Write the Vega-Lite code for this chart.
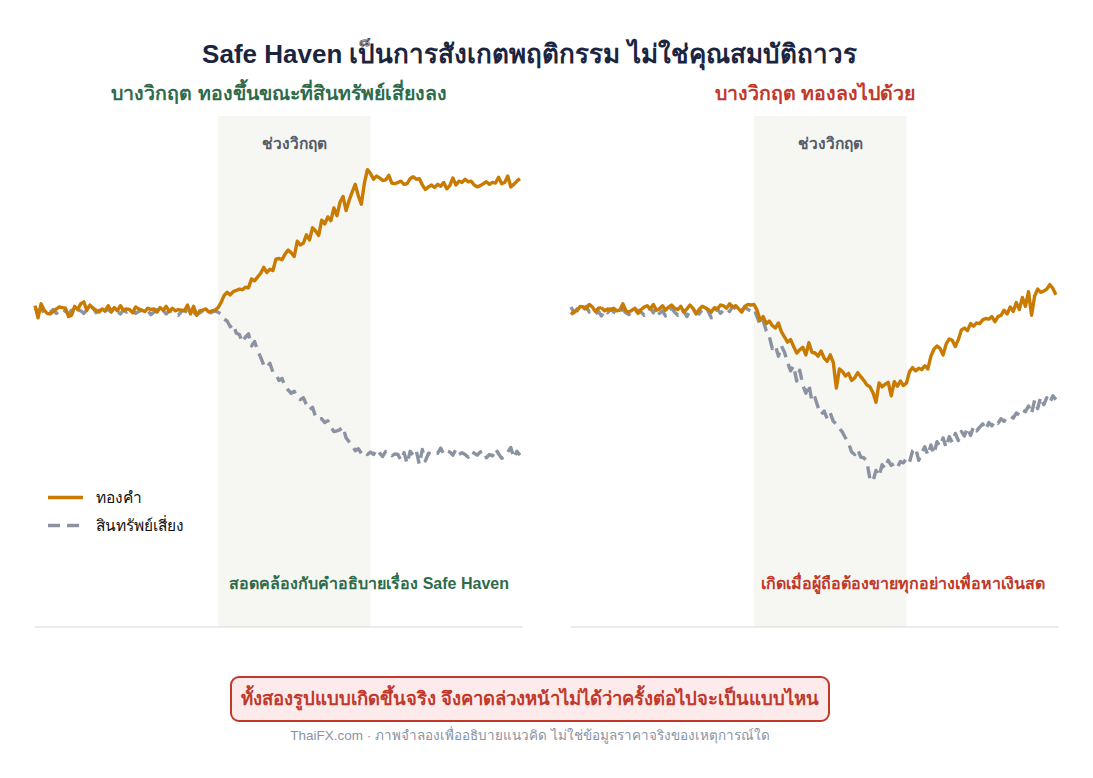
{
  "$schema": "https://vega.github.io/schema/vega-lite/v6.json",
  "padding": {"left": 33, "top": 41, "right": 0, "bottom": 0},
  "background": "white",
  "title": {
    "text": "Safe Haven เป็นการสังเกตพฤติกรรม ไม่ใช่คุณสมบัติถาวร",
    "fontSize": 26,
    "fontWeight": "bold",
    "color": "#1b2540",
    "anchor": "middle",
    "dx": -17,
    "offset": 16
  },
  "config": {
    "font": "Liberation Sans",
    "view": {"stroke": null}
  },
  "datasets": {
    "band": [{"start": 60, "end": 110, "label": "ช่วงวิกฤต"}],
    "left": [
      {"t":0,"gold":100.3,"risk":99.9},{"t":1,"gold":98.4,"risk":99.5},{"t":2,"gold":100.6,"risk":99.8},{"t":3,"gold":99.6,"risk":99.2},{"t":4,"gold":99.1,"risk":99.6},
      {"t":5,"gold":99.0,"risk":99.3},{"t":6,"gold":99.4,"risk":99.7},{"t":7,"gold":99.8,"risk":99.1},{"t":8,"gold":100.1,"risk":99.5},{"t":9,"gold":100.0,"risk":99.8},
      {"t":10,"gold":99.9,"risk":99.4},{"t":11,"gold":98.6,"risk":99.0},{"t":12,"gold":98.8,"risk":99.6},{"t":13,"gold":100.2,"risk":99.3},{"t":14,"gold":99.7,"risk":99.7},
      {"t":15,"gold":100.6,"risk":99.5},{"t":16,"gold":100.9,"risk":99.1},{"t":17,"gold":99.6,"risk":99.6},{"t":18,"gold":100.4,"risk":99.4},{"t":19,"gold":99.9,"risk":100.0},
      {"t":20,"gold":99.6,"risk":99.2},{"t":21,"gold":99.3,"risk":99.6},{"t":22,"gold":99.8,"risk":98.9},{"t":23,"gold":99.5,"risk":99.5},{"t":24,"gold":100.3,"risk":99.7},
      {"t":25,"gold":99.4,"risk":99.3},{"t":26,"gold":100.0,"risk":99.8},{"t":27,"gold":99.5,"risk":99.4},{"t":28,"gold":100.3,"risk":99.0},{"t":29,"gold":99.6,"risk":99.6},
      {"t":30,"gold":99.8,"risk":99.3},{"t":31,"gold":99.7,"risk":99.7},{"t":32,"gold":99.2,"risk":99.5},{"t":33,"gold":100.1,"risk":99.1},{"t":34,"gold":99.8,"risk":99.4},
      {"t":35,"gold":99.6,"risk":99.6},{"t":36,"gold":99.4,"risk":99.2},{"t":37,"gold":99.9,"risk":99.5},{"t":38,"gold":99.7,"risk":98.9},{"t":39,"gold":99.8,"risk":99.3},
      {"t":40,"gold":99.3,"risk":99.7},{"t":41,"gold":100.0,"risk":99.4},{"t":42,"gold":99.6,"risk":99.6},{"t":43,"gold":100.2,"risk":99.0},{"t":44,"gold":99.4,"risk":99.5},
      {"t":45,"gold":99.9,"risk":99.3},{"t":46,"gold":99.5,"risk":99.1},{"t":47,"gold":99.7,"risk":98.8},{"t":48,"gold":99.6,"risk":99.4},{"t":49,"gold":99.5,"risk":99.6},
      {"t":50,"gold":100.4,"risk":99.2},{"t":51,"gold":99.0,"risk":99.5},{"t":52,"gold":100.2,"risk":99.3},{"t":53,"gold":98.8,"risk":98.9},{"t":54,"gold":99.5,"risk":99.2},
      {"t":55,"gold":99.6,"risk":99.5},{"t":56,"gold":99.8,"risk":99.4},{"t":57,"gold":99.3,"risk":99.1},{"t":58,"gold":99.5,"risk":99.3},{"t":59,"gold":99.6,"risk":99.5},
      {"t":60,"gold":100.0,"risk":99.3},{"t":61,"gold":100.8,"risk":99.0},{"t":62,"gold":101.9,"risk":98.2},{"t":63,"gold":102.4,"risk":97.9},{"t":64,"gold":102.0,"risk":97.0},
      {"t":65,"gold":102.5,"risk":97.4},{"t":66,"gold":102.7,"risk":96.0},{"t":67,"gold":102.9,"risk":95.8},{"t":68,"gold":102.8,"risk":94.6},{"t":69,"gold":103.2,"risk":95.4},
      {"t":70,"gold":103.1,"risk":95.9},{"t":71,"gold":104.5,"risk":94.0},{"t":72,"gold":104.2,"risk":94.7},{"t":73,"gold":104.8,"risk":93.3},{"t":74,"gold":105.4,"risk":92.2},
      {"t":75,"gold":106.3,"risk":91.0},{"t":76,"gold":105.5,"risk":90.6},{"t":77,"gold":106.0,"risk":91.3},{"t":78,"gold":105.8,"risk":89.9},{"t":79,"gold":107.6,"risk":89.5},
      {"t":80,"gold":107.7,"risk":88.6},{"t":81,"gold":107.5,"risk":88.9},{"t":82,"gold":108.4,"risk":87.7},{"t":83,"gold":109.0,"risk":87.1},{"t":84,"gold":108.6,"risk":86.6},
      {"t":85,"gold":108.0,"risk":86.9},{"t":86,"gold":110.4,"risk":85.9},{"t":87,"gold":109.8,"risk":85.6},{"t":88,"gold":110.1,"risk":85.9},{"t":89,"gold":111.4,"risk":84.8},
      {"t":90,"gold":110.6,"risk":84.0},{"t":91,"gold":112.5,"risk":84.4},{"t":92,"gold":112.0,"risk":82.9},{"t":93,"gold":111.3,"risk":82.5},{"t":94,"gold":113.7,"risk":82.6},
      {"t":95,"gold":113.1,"risk":82.0},{"t":96,"gold":114.2,"risk":82.3},{"t":97,"gold":113.6,"risk":81.3},{"t":98,"gold":115.6,"risk":80.6},{"t":99,"gold":114.4,"risk":80.7},
      {"t":100,"gold":116.5,"risk":80.9},{"t":101,"gold":117.4,"risk":81.3},{"t":102,"gold":115.2,"risk":79.6},{"t":103,"gold":116.8,"risk":79.0},{"t":104,"gold":118.1,"risk":78.4},
      {"t":105,"gold":119.3,"risk":77.6},{"t":106,"gold":117.5,"risk":77.9},{"t":107,"gold":116.2,"risk":77.2},{"t":108,"gold":119.5,"risk":77.5},{"t":109,"gold":121.6,"risk":77.0},
      {"t":110,"gold":121.0,"risk":77.4},{"t":111,"gold":120.1,"risk":77.0},{"t":112,"gold":120.6,"risk":77.8},{"t":113,"gold":120.3,"risk":77.2},{"t":114,"gold":119.9,"risk":76.7},
      {"t":115,"gold":120.0,"risk":77.5},{"t":116,"gold":120.7,"risk":77.4},{"t":117,"gold":119.5,"risk":76.8},{"t":118,"gold":119.4,"risk":77.1},{"t":119,"gold":119.6,"risk":77.0},
      {"t":120,"gold":119.8,"risk":76.1},{"t":121,"gold":119.3,"risk":77.3},{"t":122,"gold":119.4,"risk":75.6},{"t":123,"gold":120.2,"risk":77.5},{"t":124,"gold":120.5,"risk":76.9},
      {"t":125,"gold":120.1,"risk":77.6},{"t":126,"gold":120.2,"risk":75.5},{"t":127,"gold":119.2,"risk":77.8},{"t":128,"gold":118.5,"risk":76.0},{"t":129,"gold":118.9,"risk":77.2},
      {"t":130,"gold":119.2,"risk":77.1},{"t":131,"gold":118.8,"risk":77.4},{"t":132,"gold":119.3,"risk":77.2},{"t":133,"gold":119.0,"risk":78.0},{"t":134,"gold":119.6,"risk":77.1},
      {"t":135,"gold":118.6,"risk":77.6},{"t":136,"gold":119.1,"risk":77.4},{"t":137,"gold":120.3,"risk":76.9},{"t":138,"gold":119.2,"risk":77.8},{"t":139,"gold":119.8,"risk":77.0},
      {"t":140,"gold":119.6,"risk":77.3},{"t":141,"gold":120.1,"risk":77.0},{"t":142,"gold":119.7,"risk":76.6},{"t":143,"gold":119.8,"risk":77.5},{"t":144,"gold":119.2,"risk":77.2},
      {"t":145,"gold":118.9,"risk":76.9},{"t":146,"gold":119.1,"risk":77.4},{"t":147,"gold":119.4,"risk":77.6},{"t":148,"gold":119.7,"risk":76.5},{"t":149,"gold":119.3,"risk":77.0},
      {"t":150,"gold":119.6,"risk":76.8},{"t":151,"gold":119.5,"risk":77.9},{"t":152,"gold":120.4,"risk":77.1},{"t":153,"gold":119.4,"risk":76.4},{"t":154,"gold":119.6,"risk":76.7},
      {"t":155,"gold":120.6,"risk":77.4},{"t":156,"gold":118.9,"risk":78.1},{"t":157,"gold":119.3,"risk":76.5},{"t":158,"gold":119.8,"risk":77.5},{"t":159,"gold":120.2,"risk":76.9}
    ],
    "right": [
      {"t":0,"gold":98.9,"risk":100.1},{"t":1,"gold":99.4,"risk":99.2},{"t":2,"gold":99.5,"risk":99.8},{"t":3,"gold":100.2,"risk":99.4},{"t":4,"gold":100.1,"risk":99.6},
      {"t":5,"gold":99.8,"risk":100.2},{"t":6,"gold":100.5,"risk":99.3},{"t":7,"gold":100.1,"risk":99.5},{"t":8,"gold":99.4,"risk":99.0},{"t":9,"gold":99.9,"risk":99.4},
      {"t":10,"gold":100.0,"risk":98.7},{"t":11,"gold":99.5,"risk":99.6},{"t":12,"gold":99.8,"risk":99.2},{"t":13,"gold":99.6,"risk":99.8},{"t":14,"gold":99.9,"risk":99.3},
      {"t":15,"gold":99.5,"risk":99.0},{"t":16,"gold":99.6,"risk":99.5},{"t":17,"gold":100.6,"risk":99.7},{"t":18,"gold":99.5,"risk":99.2},{"t":19,"gold":99.3,"risk":98.9},
      {"t":20,"gold":99.6,"risk":99.4},{"t":21,"gold":99.9,"risk":99.1},{"t":22,"gold":99.1,"risk":99.6},{"t":23,"gold":99.7,"risk":99.3},{"t":24,"gold":100.1,"risk":98.8},
      {"t":25,"gold":100.3,"risk":99.7},{"t":26,"gold":99.8,"risk":99.9},{"t":27,"gold":100.5,"risk":99.2},{"t":28,"gold":99.6,"risk":100.0},{"t":29,"gold":99.8,"risk":99.1},
      {"t":30,"gold":100.3,"risk":99.5},{"t":31,"gold":99.6,"risk":98.7},{"t":32,"gold":100.1,"risk":99.6},{"t":33,"gold":100.4,"risk":99.9},{"t":34,"gold":99.9,"risk":99.3},
      {"t":35,"gold":99.7,"risk":98.8},{"t":36,"gold":100.2,"risk":99.6},{"t":37,"gold":99.3,"risk":99.4},{"t":38,"gold":99.8,"risk":98.6},{"t":39,"gold":100.4,"risk":99.5},
      {"t":40,"gold":99.9,"risk":99.8},{"t":41,"gold":99.0,"risk":99.2},{"t":42,"gold":99.7,"risk":99.0},{"t":43,"gold":100.2,"risk":99.7},{"t":44,"gold":100.0,"risk":100.2},
      {"t":45,"gold":99.7,"risk":99.4},{"t":46,"gold":99.3,"risk":98.4},{"t":47,"gold":100.0,"risk":99.3},{"t":48,"gold":99.8,"risk":99.8},{"t":49,"gold":100.4,"risk":99.1},
      {"t":50,"gold":100.3,"risk":99.6},{"t":51,"gold":99.9,"risk":99.9},{"t":52,"gold":100.6,"risk":99.4},{"t":53,"gold":100.1,"risk":100.2},{"t":54,"gold":100.3,"risk":99.8},
      {"t":55,"gold":99.8,"risk":99.3},{"t":56,"gold":99.3,"risk":99.6},{"t":57,"gold":100.2,"risk":100.1},{"t":58,"gold":100.5,"risk":99.7},{"t":59,"gold":100.4,"risk":99.5},
      {"t":60,"gold":100.5,"risk":99.8},{"t":61,"gold":99.6,"risk":98.6},{"t":62,"gold":98.0,"risk":97.3},{"t":63,"gold":98.6,"risk":98.0},{"t":64,"gold":97.5,"risk":96.4},
      {"t":65,"gold":97.9,"risk":95.5},{"t":66,"gold":97.2,"risk":93.6},{"t":67,"gold":96.8,"risk":94.1},{"t":68,"gold":97.6,"risk":92.4},{"t":69,"gold":96.2,"risk":94.0},
      {"t":70,"gold":95.4,"risk":93.0},{"t":71,"gold":94.6,"risk":91.4},{"t":72,"gold":95.0,"risk":90.1},{"t":73,"gold":93.9,"risk":90.9},{"t":74,"gold":92.9,"risk":88.5},
      {"t":75,"gold":93.4,"risk":90.2},{"t":76,"gold":93.8,"risk":87.9},{"t":77,"gold":92.6,"risk":86.6},{"t":78,"gold":94.5,"risk":88.0},{"t":79,"gold":93.0,"risk":85.3},
      {"t":80,"gold":92.9,"risk":85.9},{"t":81,"gold":92.4,"risk":84.4},{"t":82,"gold":93.2,"risk":83.3},{"t":83,"gold":92.1,"risk":83.8},{"t":84,"gold":91.6,"risk":82.6},
      {"t":85,"gold":92.6,"risk":83.5},{"t":86,"gold":91.4,"risk":82.2},{"t":87,"gold":87.4,"risk":81.8},{"t":88,"gold":90.4,"risk":81.1},{"t":89,"gold":90.0,"risk":80.5},
      {"t":90,"gold":89.3,"risk":79.6},{"t":91,"gold":89.7,"risk":78.8},{"t":92,"gold":88.6,"risk":77.4},{"t":93,"gold":89.0,"risk":77.0},{"t":94,"gold":89.8,"risk":77.8},
      {"t":95,"gold":89.2,"risk":76.6},{"t":96,"gold":88.6,"risk":76.5},{"t":97,"gold":87.9,"risk":75.9},{"t":98,"gold":87.6,"risk":73.2},{"t":99,"gold":86.7,"risk":72.8},
      {"t":100,"gold":85.2,"risk":74.5},{"t":101,"gold":88.2,"risk":73.6},{"t":102,"gold":87.6,"risk":75.4},{"t":103,"gold":88.0,"risk":74.8},{"t":104,"gold":88.3,"risk":76.1},
      {"t":105,"gold":86.2,"risk":75.3},{"t":106,"gold":88.4,"risk":75.6},{"t":107,"gold":87.7,"risk":75.0},{"t":108,"gold":88.5,"risk":75.9},{"t":109,"gold":87.8,"risk":75.7},
      {"t":110,"gold":88.2,"risk":76.4},{"t":111,"gold":90.0,"risk":75.8},{"t":112,"gold":90.6,"risk":77.6},{"t":113,"gold":90.1,"risk":78.0},{"t":114,"gold":90.5,"risk":76.1},
      {"t":115,"gold":90.3,"risk":77.3},{"t":116,"gold":90.9,"risk":78.2},{"t":117,"gold":90.4,"risk":76.9},{"t":118,"gold":92.4,"risk":78.5},{"t":119,"gold":93.5,"risk":77.1},
      {"t":120,"gold":94.0,"risk":79.0},{"t":121,"gold":93.6,"risk":78.3},{"t":122,"gold":92.6,"risk":79.6},{"t":123,"gold":94.3,"risk":78.1},{"t":124,"gold":95.1,"risk":79.8},
      {"t":125,"gold":94.9,"risk":78.9},{"t":126,"gold":93.9,"risk":80.3},{"t":127,"gold":95.0,"risk":79.2},{"t":128,"gold":96.5,"risk":80.6},{"t":129,"gold":96.8,"risk":79.9},
      {"t":130,"gold":96.4,"risk":81.2},{"t":131,"gold":97.5,"risk":80.0},{"t":132,"gold":97.1,"risk":81.4},{"t":133,"gold":97.6,"risk":80.7},{"t":134,"gold":97.5,"risk":81.3},
      {"t":135,"gold":98.1,"risk":81.8},{"t":136,"gold":98.3,"risk":80.9},{"t":137,"gold":98.2,"risk":82.0},{"t":138,"gold":98.6,"risk":81.5},{"t":139,"gold":97.8,"risk":82.3},
      {"t":140,"gold":98.6,"risk":81.9},{"t":141,"gold":98.8,"risk":82.6},{"t":142,"gold":99.6,"risk":82.2},{"t":143,"gold":99.0,"risk":82.9},{"t":144,"gold":100.1,"risk":83.0},
      {"t":145,"gold":99.4,"risk":82.7},{"t":146,"gold":100.8,"risk":83.5},{"t":147,"gold":99.7,"risk":83.2},{"t":148,"gold":101.6,"risk":84.0},{"t":149,"gold":100.2,"risk":83.7},
      {"t":150,"gold":102.5,"risk":84.6},{"t":151,"gold":98.8,"risk":83.4},{"t":152,"gold":101.8,"risk":85.5},{"t":153,"gold":102.9,"risk":84.2},{"t":154,"gold":102.4,"risk":86.0},
      {"t":155,"gold":102.6,"risk":84.8},{"t":156,"gold":102.9,"risk":85.9},{"t":157,"gold":103.6,"risk":85.1},{"t":158,"gold":103.0,"risk":86.2},{"t":159,"gold":102.0,"risk":85.6}
    ]
  },
  "vconcat": [
    {
      "hconcat": [
        {
          "width": 488,
          "height": 511,
          "title": {
            "text": "บางวิกฤต ทองขึ้นขณะที่สินทรัพย์เสี่ยงลง",
            "color": "#2e6b4a",
            "fontSize": 19.5,
            "fontWeight": "bold",
            "anchor": "middle",
            "frame": "group",
            "offset": 12
          },
          "layer": [
            {
              "data": {"name": "band"},
              "mark": {"type": "rect", "color": "#f6f6f3"},
              "encoding": {
                "x": {"field": "start", "type": "quantitative", "scale": {"domain": [0, 160], "nice": false, "zero": false}, "axis": null},
                "x2": {"field": "end"}
              }
            },
            {
              "data": {"values": [{"base": 50}]},
              "mark": {"type": "rule", "color": "#d8d8d4", "strokeWidth": 1},
              "encoding": {
                "y": {"field": "base", "type": "quantitative", "axis": null}
              }
            },
            {
              "data": {"name": "band"},
              "transform": [{"calculate": "(datum.start + datum.end) / 2", "as": "mid"}],
              "mark": {"type": "text", "color": "#555c66", "fontSize": 15.5, "fontWeight": "bold", "baseline": "middle"},
              "encoding": {
                "x": {"field": "mid", "type": "quantitative", "axis": null},
                "y": {"datum": 125.6, "type": "quantitative", "axis": null},
                "text": {"field": "label"}
              }
            },
            {
              "data": {"name": "left"},
              "transform": [{"fold": ["risk", "gold"], "as": ["series", "v"]}],
              "mark": {"type": "line", "strokeWidth": 3.4, "strokeJoin": "round"},
              "encoding": {
                "x": {"field": "t", "type": "quantitative", "axis": null},
                "y": {"field": "v", "type": "quantitative", "scale": {"domain": [50, 130], "nice": false, "zero": false}, "axis": null},
                "color": {
                  "field": "series", "type": "nominal",
                  "scale": {"domain": ["gold", "risk"], "range": ["#c97a00", "#8b93a3"]},
                  "legend": {
                    "title": null, "orient": "none", "legendX": 11, "legendY": 362,
                    "symbolType": "stroke", "symbolSize": 1225, "symbolStrokeWidth": 3.4,
                    "labelFontSize": 15.5, "labelColor": "#111111", "labelOffset": 11, "rowPadding": -6,
                    "labelExpr": "datum.value == 'gold' ? 'ทองคำ' : 'สินทรัพย์เสี่ยง'"
                  }
                },
                "strokeDash": {
                  "field": "series", "type": "nominal",
                  "scale": {"domain": ["gold", "risk"], "range": [[1, 0], [12, 7]]},
                  "legend": {
                    "title": null, "orient": "none", "legendX": 11, "legendY": 362,
                    "symbolType": "stroke", "symbolSize": 1225, "symbolStrokeWidth": 3.4,
                    "labelFontSize": 15.5, "labelColor": "#111111", "labelOffset": 11, "rowPadding": -6,
                    "labelExpr": "datum.value == 'gold' ? 'ทองคำ' : 'สินทรัพย์เสี่ยง'"
                  }
                }
              }
            },
            {
              "data": {"values": [{"note": "สอดคล้องกับคำอธิบายเรื่อง Safe Haven"}]},
              "mark": {"type": "text", "align": "right", "baseline": "middle", "color": "#2e6b4a", "fontSize": 16, "fontWeight": "bold"},
              "encoding": {
                "x": {"datum": 155.4, "type": "quantitative", "axis": null},
                "y": {"datum": 56.7, "type": "quantitative", "axis": null},
                "text": {"field": "note"}
              }
            }
          ]
        },
        {
          "width": 488,
          "height": 511,
          "title": {
            "text": "บางวิกฤต ทองลงไปด้วย",
            "color": "#c0392b",
            "fontSize": 19.5,
            "fontWeight": "bold",
            "anchor": "middle",
            "frame": "group",
            "offset": 12
          },
          "layer": [
            {
              "data": {"name": "band"},
              "mark": {"type": "rect", "color": "#f6f6f3"},
              "encoding": {
                "x": {"field": "start", "type": "quantitative", "scale": {"domain": [0, 160], "nice": false, "zero": false}, "axis": null},
                "x2": {"field": "end"}
              }
            },
            {
              "data": {"values": [{"base": 50}]},
              "mark": {"type": "rule", "color": "#d8d8d4", "strokeWidth": 1},
              "encoding": {
                "y": {"field": "base", "type": "quantitative", "axis": null}
              }
            },
            {
              "data": {"name": "band"},
              "transform": [{"calculate": "(datum.start + datum.end) / 2", "as": "mid"}],
              "mark": {"type": "text", "color": "#555c66", "fontSize": 15.5, "fontWeight": "bold", "baseline": "middle"},
              "encoding": {
                "x": {"field": "mid", "type": "quantitative", "axis": null},
                "y": {"datum": 125.6, "type": "quantitative", "axis": null},
                "text": {"field": "label"}
              }
            },
            {
              "data": {"name": "right"},
              "transform": [{"fold": ["risk", "gold"], "as": ["series", "v"]}],
              "mark": {"type": "line", "strokeWidth": 3.4, "strokeJoin": "round"},
              "encoding": {
                "x": {"field": "t", "type": "quantitative", "axis": null},
                "y": {"field": "v", "type": "quantitative", "scale": {"domain": [50, 130], "nice": false, "zero": false}, "axis": null},
                "color": {
                  "field": "series", "type": "nominal",
                  "scale": {"domain": ["gold", "risk"], "range": ["#c97a00", "#8b93a3"]},
                  "legend": {
                    "title": null, "orient": "none", "legendX": 11, "legendY": 362,
                    "symbolType": "stroke", "symbolSize": 1225, "symbolStrokeWidth": 3.4,
                    "labelFontSize": 15.5, "labelColor": "#111111", "labelOffset": 11, "rowPadding": -6,
                    "labelExpr": "datum.value == 'gold' ? 'ทองคำ' : 'สินทรัพย์เสี่ยง'"
                  }
                },
                "strokeDash": {
                  "field": "series", "type": "nominal",
                  "scale": {"domain": ["gold", "risk"], "range": [[1, 0], [12, 7]]},
                  "legend": {
                    "title": null, "orient": "none", "legendX": 11, "legendY": 362,
                    "symbolType": "stroke", "symbolSize": 1225, "symbolStrokeWidth": 3.4,
                    "labelFontSize": 15.5, "labelColor": "#111111", "labelOffset": 11, "rowPadding": -6,
                    "labelExpr": "datum.value == 'gold' ? 'ทองคำ' : 'สินทรัพย์เสี่ยง'"
                  }
                }
              }
            },
            {
              "data": {"values": [{"note": "เกิดเมื่อผู้ถือต้องขายทุกอย่างเพื่อหาเงินสด"}]},
              "mark": {"type": "text", "align": "right", "baseline": "middle", "color": "#c0392b", "fontSize": 16, "fontWeight": "bold"},
              "encoding": {
                "x": {"datum": 155.4, "type": "quantitative", "axis": null},
                "y": {"datum": 56.7, "type": "quantitative", "axis": null},
                "text": {"field": "note"}
              }
            }
          ]
        }
      ],
      "spacing": 45
    },
    {
      "hconcat": [
        {
          "width": 195,
          "height": 44,
          "data": {"values": [{"blank": ""}]},
          "mark": {"type": "text"},
          "encoding": {"text": {"field": "blank"}}
        },
        {
          "width": 598,
          "height": 44,
          "view": {"fill": "#fdeaea", "stroke": "#c0392b", "strokeWidth": 2, "cornerRadius": 8},
          "title": {
            "text": "ThaiFX.com  ·  ภาพจำลองเพื่ออธิบายแนวคิด ไม่ใช่ข้อมูลราคาจริงของเหตุการณ์ใด",
            "orient": "bottom",
            "anchor": "middle",
            "frame": "group",
            "fontSize": 13.5,
            "fontWeight": "normal",
            "color": "#8a93a3",
            "offset": 8
          },
          "data": {"values": [{"msg": "ทั้งสองรูปแบบเกิดขึ้นจริง  จึงคาดล่วงหน้าไม่ได้ว่าครั้งต่อไปจะเป็นแบบไหน"}]},
          "mark": {"type": "text", "align": "center", "baseline": "middle", "color": "#c0392b", "fontSize": 18.5, "fontWeight": "bold"},
          "encoding": {"text": {"field": "msg"}}
        }
      ],
      "spacing": 0
    }
  ],
  "spacing": 48
}
